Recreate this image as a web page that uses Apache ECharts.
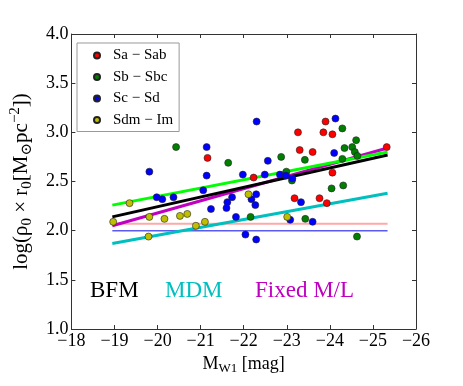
<!DOCTYPE html>
<html>
<head>
<meta charset="utf-8">
<script src="https://cdn.jsdelivr.net/npm/echarts@6/dist/echarts.min.js"></script>
<style>
html, body { margin: 0; padding: 0; background: #fff; }
#chart { width: 463px; height: 386px; }
</style>
</head>
<body>
<div id="chart"></div>
<script>
// morphological types: [M_W1, log(rho0 * r0)]
const saSab = [[-21.16, 2.74], [-22.23, 2.54], [-23.26, 3.00], [-23.30, 2.82], [-23.60, 2.80],
  [-23.90, 3.11], [-23.85, 3.00], [-24.06, 2.98], [-24.06, 2.59], [-23.18, 2.33],
  [-23.76, 2.33], [-23.93, 2.28], [-25.32, 2.85]]
const sbSbc = [[-20.43, 2.85], [-21.64, 2.69], [-22.87, 2.75], [-23.42, 2.72], [-22.99, 2.60],
  [-23.12, 2.51], [-22.16, 2.14], [-23.43, 2.12], [-24.29, 3.04], [-24.61, 2.92],
  [-24.34, 2.84], [-24.52, 2.85], [-24.58, 2.80], [-24.64, 2.76], [-24.29, 2.73],
  [-24.04, 2.43], [-24.31, 2.46], [-24.63, 1.94]]
const scSd = [[-19.81, 2.60], [-19.98, 2.34], [-20.11, 2.32], [-20.37, 2.34], [-21.06, 2.41],
  [-21.14, 2.85], [-21.14, 2.56], [-21.24, 2.22], [-21.60, 2.23], [-21.62, 2.29],
  [-21.73, 2.34], [-21.82, 2.14], [-21.98, 2.57], [-22.04, 1.96], [-22.18, 2.32],
  [-22.29, 2.37], [-22.27, 2.26], [-22.29, 1.91], [-22.30, 3.11], [-22.49, 2.57],
  [-22.56, 2.71], [-22.84, 2.57], [-22.98, 2.56], [-23.13, 2.53], [-23.33, 2.29],
  [-23.08, 2.11], [-23.60, 2.09], [-24.10, 2.79], [-24.13, 3.14]]
const sdmIm = [[-18.97, 2.09], [-19.35, 2.28], [-19.81, 2.14], [-19.79, 1.94], [-20.16, 2.12],
  [-20.52, 2.15], [-20.69, 2.17], [-20.89, 2.05], [-21.10, 2.09], [-22.11, 2.37],
  [-23.01, 2.14]]

// fitted lines, end points at fitRange
const fitRange = [-18.95, -25.34]
const bfmFit = [2.14, 2.77]
const allFit = [2.26, 2.80]
const fixedFit = [2.05, 2.84]
const mdmFit = [1.87, 2.38]
const refRed = [2.07, 2.07]
const refBlue = [2.0, 2.0]

const typeNames = ['Sa \u2212 Sab', 'Sb \u2212 Sbc', 'Sc \u2212 Sd', 'Sdm \u2212 Im']
const xTicks = { min: -26, max: -18, step: 1 }
const yTicks = { min: 1, max: 4, step: 0.5 }

const serif = 'Liberation Serif, DejaVu Serif, serif'
const chart = echarts.init(document.getElementById('chart'))

function toLine(ys) {
  return fitRange.map((x, i) => [x, ys[i]])
}

function lineSeries(ys, color, width) {
  return {
    type: 'line',
    data: toLine(ys),
    symbol: 'none',
    silent: true,
    z: 2,
    lineStyle: { color: color, width: width }
  }
}

function dotSeries(name, data, color) {
  return {
    name: name,
    type: 'scatter',
    data: data,
    symbolSize: 7,
    z: 5,
    itemStyle: { color: color, opacity: 1, borderColor: '#222', borderWidth: 0.6 }
  }
}

const minus = v => String(v).replace('-', '\u2212')

const option = {
  animation: false,
  grid: { left: 69, right: 47, top: 34, bottom: 57 },
  legend: {
    data: typeNames,
    orient: 'vertical',
    left: 77,
    top: 43,
    padding: [5, 6, 4, 16],
    itemGap: 6.5,
    itemWidth: 6,
    itemHeight: 6,
    borderColor: '#999',
    borderWidth: 1,
    textStyle: { fontFamily: serif, fontSize: 15, color: '#000', padding: [0, 0, 0, 8], lineHeight: 15 }
  },
  xAxis: [
    {
      type: 'value',
      inverse: true,
      min: xTicks.min,
      max: xTicks.max,
      interval: xTicks.step,
      name: '{m|M}{s|W1}{m| [mag]}',
      nameLocation: 'middle',
      nameGap: 20,
      nameTextStyle: {
        rich: {
          m: { fontFamily: serif, fontSize: 18, color: '#000', lineHeight: 22 },
          s: { fontFamily: serif, fontSize: 13, color: '#000', lineHeight: 13, verticalAlign: 'bottom' }
        }
      },
      axisLine: { lineStyle: { color: '#333', width: 1 } },
      axisTick: { inside: true, length: 4, lineStyle: { color: '#333' } },
      axisLabel: { margin: 3, fontFamily: serif, fontSize: 18, color: '#000', formatter: minus },
      splitLine: { show: false }
    },
    {
      type: 'value',
      position: 'top',
      inverse: true,
      min: xTicks.min,
      max: xTicks.max,
      interval: xTicks.step,
      axisLine: { lineStyle: { color: '#333', width: 1 } },
      axisTick: { inside: true, length: 4, lineStyle: { color: '#333' } },
      axisLabel: { show: false },
      splitLine: { show: false }
    }
  ],
  yAxis: [
    {
      type: 'value',
      min: yTicks.min,
      max: yTicks.max,
      interval: yTicks.step,
      name: '{m|log(\u03c1}{s|0}{m| \u00d7 r}{s|0}{m|[M}{s|\u2299}{m|pc}{p|\u22122}{m|])}',
      nameLocation: 'middle',
      nameRotate: 90,
      nameGap: 29,
      nameTextStyle: {
        rich: {
          m: { fontFamily: serif, fontSize: 21, color: '#000', lineHeight: 27 },
          s: { fontFamily: serif, fontSize: 15, color: '#000', lineHeight: 15, verticalAlign: 'bottom' },
          p: { fontFamily: serif, fontSize: 15, color: '#000', lineHeight: 15, verticalAlign: 'top' }
        }
      },
      axisLine: { show: true, lineStyle: { color: '#333', width: 1 } },
      axisTick: { show: true, inside: true, length: 4, lineStyle: { color: '#333' } },
      axisLabel: { margin: 3, fontFamily: serif, fontSize: 18, color: '#000', formatter: v => v.toFixed(1) },
      splitLine: { show: false }
    },
    {
      type: 'value',
      position: 'right',
      min: yTicks.min,
      max: yTicks.max,
      interval: yTicks.step,
      axisLine: { show: true, lineStyle: { color: '#333', width: 1 } },
      axisTick: { show: true, inside: true, length: 4, lineStyle: { color: '#333' } },
      axisLabel: { show: false },
      splitLine: { show: false }
    }
  ],
  graphic: [
    { type: 'text', left: 90, top: 279, style: { text: 'BFM', fill: '#000', font: '23px ' + serif } },
    { type: 'text', left: 165, top: 279, style: { text: 'MDM', fill: '#00bfbf', font: '23px ' + serif } },
    { type: 'text', left: 255, top: 279, style: { text: 'Fixed M/L', fill: '#c000c0', font: '23px ' + serif } }
  ],
  series: [
    lineSeries(refBlue, '#5a5af0', 1.5),
    lineSeries(refRed, '#ffa8a8', 2),
    lineSeries(mdmFit, '#00bfbf', 3),
    lineSeries(fixedFit, '#c000c0', 3),
    lineSeries(bfmFit, '#000000', 3),
    lineSeries(allFit, '#00ff00', 3),
    dotSeries(typeNames[0], saSab, '#ff0000'),
    dotSeries(typeNames[1], sbSbc, '#007f00'),
    dotSeries(typeNames[2], scSd, '#0000ff'),
    dotSeries(typeNames[3], sdmIm, '#bfbf00')
  ]
}

chart.setOption(option)
</script>
</body>
</html>
